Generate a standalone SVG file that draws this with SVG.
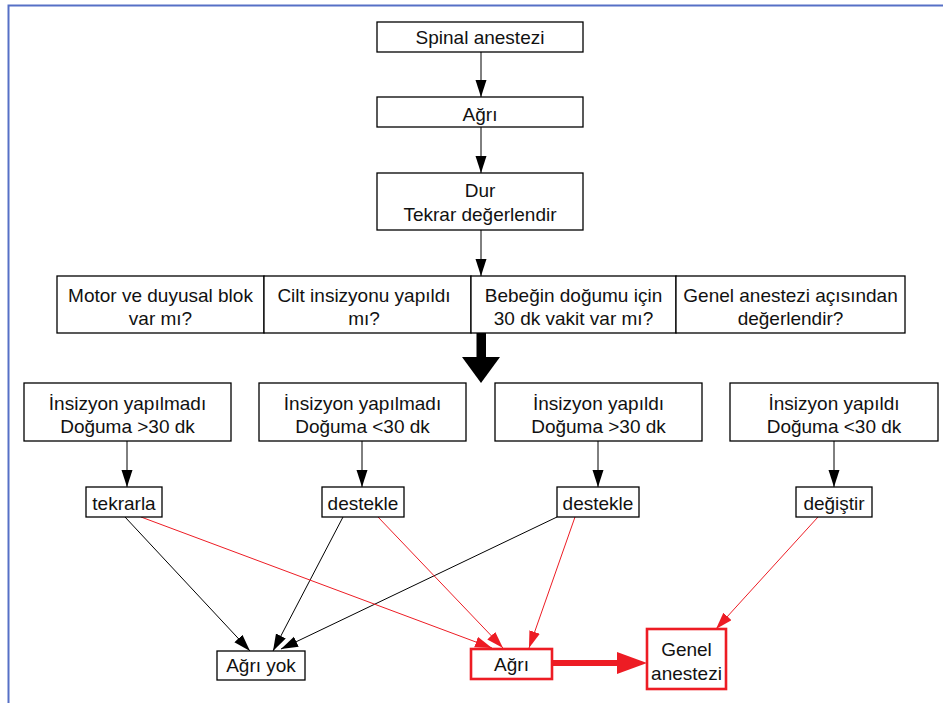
<svg xmlns="http://www.w3.org/2000/svg" width="943" height="703" viewBox="0 0 943 703">
<style>
.box{fill:#fff;stroke:#000;stroke-width:1.3}
.rbox{fill:#fff;stroke:#ed1c24;stroke-width:2.6}
text{font-family:"Liberation Sans",Arial,sans-serif;font-size:19px;fill:#111;text-anchor:middle}
.k{stroke:#000;stroke-width:1;fill:none}
.r{stroke:#ed1c24;stroke-width:1;fill:none}
</style>
<defs>
<marker id="ak" markerUnits="userSpaceOnUse" markerWidth="18" markerHeight="12" refX="17" refY="5.5" orient="auto"><path d="M0,0 L17,5.5 L0,11 z" fill="#000"/></marker>
<marker id="ar" markerUnits="userSpaceOnUse" markerWidth="18" markerHeight="12" refX="17" refY="5.5" orient="auto"><path d="M0,0 L17,5.5 L0,11 z" fill="#ed1c24"/></marker>
</defs>
<rect width="943" height="703" fill="#fff"/>
<path d="M8.5,703 V5.5 H943" fill="none" stroke="#5670c6" stroke-width="2"/>

<g id="connectors">
<line class="k" x1="481" y1="52" x2="481" y2="97" marker-end="url(#ak)"/>
<line class="k" x1="481" y1="127" x2="481" y2="173" marker-end="url(#ak)"/>
<line class="k" x1="481" y1="230" x2="481" y2="276" marker-end="url(#ak)"/>
<rect x="476.5" y="333" width="9.5" height="25" fill="#000"/>
<polygon points="462,357 500,357 481,383" fill="#000"/>
<line class="k" x1="127" y1="441" x2="127" y2="487" marker-end="url(#ak)"/>
<line class="k" x1="362" y1="441" x2="362" y2="487" marker-end="url(#ak)"/>
<line class="k" x1="598" y1="441" x2="598" y2="487" marker-end="url(#ak)"/>
<line class="k" x1="834" y1="441" x2="834" y2="487" marker-end="url(#ak)"/>
<line class="k" x1="125" y1="517" x2="250" y2="651" marker-end="url(#ak)"/>
<line class="k" x1="343" y1="517" x2="273" y2="651" marker-end="url(#ak)"/>
<line class="k" x1="557" y1="517" x2="281" y2="649" marker-end="url(#ak)"/>
<line class="r" x1="141" y1="517" x2="492" y2="648" marker-end="url(#ar)"/>
<line class="r" x1="378" y1="517" x2="503" y2="648" marker-end="url(#ar)"/>
<line class="r" x1="575" y1="517" x2="529" y2="648" marker-end="url(#ar)"/>
<line class="r" x1="818" y1="517" x2="716" y2="629" marker-end="url(#ar)"/>
<line x1="552" y1="663" x2="620" y2="663" stroke="#ed1c24" stroke-width="6"/>
<polygon points="617,652 647,663 617,674" fill="#ed1c24"/>
</g>

<g id="spinal"><rect class="box" x="377" y="22" width="206" height="30"/><text x="480" y="44">Spinal anestezi</text></g>
<g id="agri1"><rect class="box" x="377" y="97" width="206" height="30"/><text x="480" y="121">Ağrı</text></g>
<g id="dur"><rect class="box" x="377" y="173" width="206" height="57"/><text x="480" y="197">Dur</text><text x="480" y="221">Tekrar değerlendir</text></g>

<g id="q1"><rect class="box" x="57" y="276" width="207" height="57"/><text x="160.5" y="302">Motor ve duyusal blok</text><text x="160.5" y="325">var mı?</text></g>
<g id="q2"><rect class="box" x="264" y="276" width="207" height="57"/><text x="364" y="302">Cilt insizyonu yapıldı</text><text x="364" y="325">mı?</text></g>
<g id="q3"><rect class="box" x="471" y="276" width="205" height="57"/><text x="573.5" y="302">Bebeğin doğumu için</text><text x="573.5" y="325">30 dk vakit var mı?</text></g>
<g id="q4"><rect class="box" x="676" y="276" width="229" height="57"/><text x="790.5" y="302">Genel anestezi açısından</text><text x="790.5" y="325">değerlendir?</text></g>

<g id="c1"><rect class="box" x="24" y="383" width="207" height="58"/><text x="127.5" y="410">İnsizyon yapılmadı</text><text x="127.5" y="433">Doğuma &gt;30 dk</text></g>
<g id="c2"><rect class="box" x="259" y="383" width="207" height="58"/><text x="362.5" y="410">İnsizyon yapılmadı</text><text x="362.5" y="433">Doğuma &lt;30 dk</text></g>
<g id="c3"><rect class="box" x="495" y="383" width="207" height="58"/><text x="598.5" y="410">İnsizyon yapıldı</text><text x="598.5" y="433">Doğuma &gt;30 dk</text></g>
<g id="c4"><rect class="box" x="730" y="383" width="208" height="58"/><text x="834" y="410">İnsizyon yapıldı</text><text x="834" y="433">Doğuma &lt;30 dk</text></g>

<g id="tekrarla"><rect class="box" x="86" y="487" width="76" height="30"/><text x="124" y="510">tekrarla</text></g>
<g id="destekle1"><rect class="box" x="322" y="487" width="82" height="30"/><text x="363" y="510">destekle</text></g>
<g id="destekle2"><rect class="box" x="557" y="487" width="82" height="30"/><text x="598" y="510">destekle</text></g>
<g id="degistir"><rect class="box" x="796" y="487" width="76" height="30"/><text x="834" y="510">değiştir</text></g>

<g id="agriyok"><rect class="box" x="217" y="651" width="88" height="29"/><text x="261" y="672">Ağrı yok</text></g>
<g id="agri2"><rect class="rbox" x="471" y="649" width="81" height="30"/><text x="511.5" y="671">Ağrı</text></g>
<g id="genel"><rect class="rbox" x="647" y="629" width="79" height="60"/><text x="686.5" y="656">Genel</text><text x="686.5" y="680">anestezi</text></g>
</svg>
